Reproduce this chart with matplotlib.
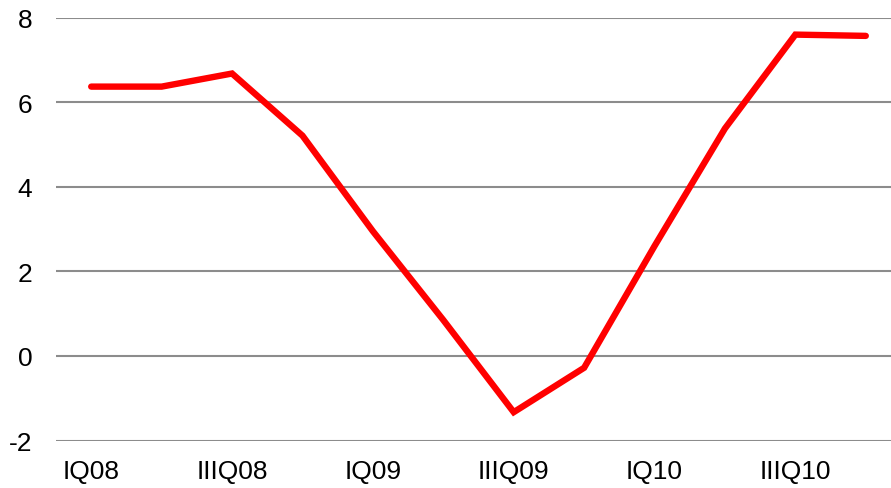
import matplotlib
matplotlib.use("Agg")
import matplotlib.pyplot as plt

quarters = ["IQ08", "IIQ08", "IIIQ08", "IVQ08", "IQ09", "IIQ09", "IIIQ09", "IVQ09",
            "IQ10", "IIQ10", "IIIQ10", "IVQ10"]
values = [6.37, 6.37, 6.68, 5.21, 2.95, 0.85, -1.33, -0.28, 2.6, 5.38, 7.6, 7.57]
yticks = [-2, 0, 2, 4, 6, 8]

plt.rcParams['font.family'] = ['Liberation Sans', 'DejaVu Sans']

W, H = 891, 489
fig = plt.figure(figsize=(W / 100, H / 100), dpi=100)
left = 56 / W
right = 901 / W
bottom = (H - 441.5) / H
top = 1 - 18.7 / H
ax = fig.add_axes([left, bottom, right - left, top - bottom])

x = list(range(len(quarters)))
ax.plot(x, values, color="#ff0000", linewidth=4.6, solid_capstyle="round",
        solid_joinstyle="miter", zorder=3)

ax.set_xlim(-0.5, len(quarters) - 0.5)
ax.set_ylim(-2, 8)
ax.set_yticks(yticks)
ax.set_yticklabels([str(t) for t in yticks])
ax.set_xticks(x[::2])
ax.set_xticklabels(quarters[::2])
ax.grid(axis="y", color="#8c8c8c", linewidth=1.5, zorder=1)
ax.set_axisbelow(True)
for s in ax.spines.values():
    s.set_visible(False)
ax.tick_params(axis="both", length=0, labelsize=19, colors="black")
ax.tick_params(axis="y", pad=17)
ax.tick_params(axis="x", pad=13)

fig.savefig("out.png", dpi=100)
